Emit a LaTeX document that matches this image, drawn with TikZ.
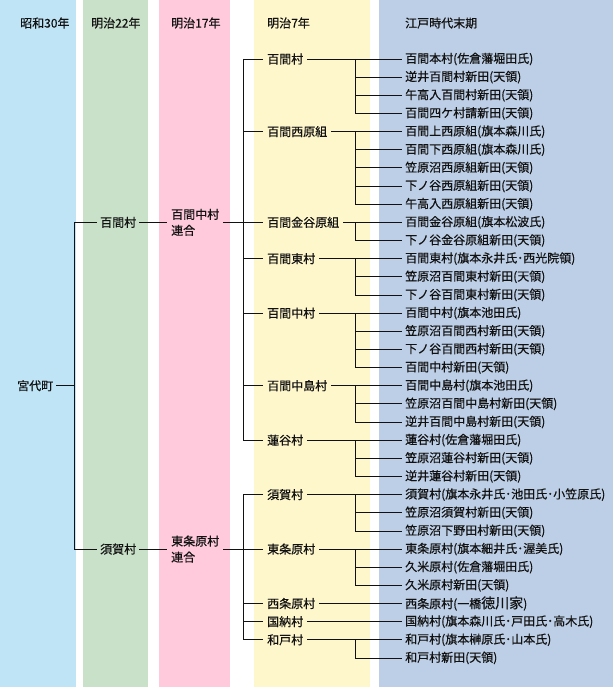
\documentclass[tikz,border=0pt]{standalone}
\usepackage{fontspec}
\setmainfont{Noto Sans CJK JP}[FakeBold=0.4]
\usetikzlibrary{calc}
\definecolor{ink}{HTML}{111111}
\definecolor{showafill}{HTML}{BEE4F5}
\definecolor{mtwtwofill}{HTML}{C9E1C9}
\definecolor{msevfill}{HTML}{FFCADB}
\definecolor{mtsevfill}{HTML}{FFF7CC}
\definecolor{edofill}{HTML}{BDCFE6}
\newcommand{\twelve}{\fontsize{12}{16}\selectfont}
\newcommand{\biggerjp}{\fontsize{14}{14}\selectfont}
\tikzset{
 every node/.append style={font=\twelve,text=ink,align=left},
 head/.style={anchor=west,inner sep=0pt},
 place/.style={anchor=west,inner xsep=3pt,inner ysep=1pt},
 newplace/.style={place,inner xsep=4pt},
 oldplace/.style={place},
 route/.style={draw=ink,line width=.8pt},
}
\begin{document}
\begin{tikzpicture}[x=1pt,y=-1pt]

\useasboundingbox (0,0) rectangle (613,687);
\fill[showafill] (0,0) rectangle (76,687);
\fill[mtwtwofill] (83,0) rectangle (148,687);
\fill[msevfill] (159,0) rectangle (230,687);
\fill[mtsevfill] (254,0) rectangle (370,687);
\fill[edofill] (379,0) rectangle (613,687);
\node[head] (hshowa) at (20,23) {昭和30年};
\node[head] (hm22) at (91,23) {明治22年};
\node[head] (hm17) at (171,23) {明治17年};
\node[head] (hm7) at (267,23) {明治7年};
\node[head] (hedo) at (405,23) {江戸時代末期};
\coordinate (trunk) at (74,0);
\coordinate (spine) at (243,0);
\coordinate (sub) at (355,0);
\foreach \i/\t in {1/百間本村(佐倉藩堀田氏),2/逆井百間村新田(天領),3/午高入百間村新田(天領),4/百間四ケ村請新田(天領),
 5/百間上西原組(旗本森川氏),6/百間下西原組(旗本森川氏),7/笠原沼西原組新田(天領),8/下ノ谷西原組新田(天領),9/午高入西原組新田(天領),
 10/百間金谷原組(旗本松波氏),11/下ノ谷金谷原組新田(天領),12/百間東村(旗本永井氏･西光院領),13/笠原沼百間東村新田(天領),14/下ノ谷百間東村新田(天領),
 15/百間中村(旗本池田氏),16/笠原沼百間西村新田(天領),17/下ノ谷百間西村新田(天領),18/百間中村新田(天領),
 19/百間中島村(旗本池田氏),20/笠原沼百間中島村新田(天領),21/逆井百間中島村新田(天領),
 22/蓮谷村(佐倉藩堀田氏),23/笠原沼蓮谷村新田(天領),24/逆井蓮谷村新田(天領),
 25/須賀村(旗本永井氏･池田氏･小笠原氏),26/笠原沼須賀村新田(天領),27/笠原沼下野田村新田(天領),
 28/東条原村(旗本細井氏･渥美氏),29/久米原村(佐倉藩堀田氏),30/久米原村新田(天領),
 31/西条原村(一橋{\biggerjp 徳川家}),32/国納村(旗本森川氏･戸田氏･高木氏),33/和戸村(旗本榊原氏･山本氏),34/和戸村新田(天領)}
 \node[oldplace] (e\i) at (402,{40.85+18.15*\i}) {\t};
\foreach \n/\r/\t in {1/1/百間村,2/5/百間西原組,3/10/百間金谷原組,4/12/百間東村,5/15/百間中村,6/19/百間中島村,
 7/22/蓮谷村,8/25/須賀村,9/28/東条原村,10/31/西条原村,11/32/国納村,12/33/和戸村}
 \node[newplace] (m\n) at (263,{40.85+18.15*\r}) {\t};
\node[newplace] (r1) at (167,{40.85+18.15*10}) {百間中村\\連合};
\node[newplace] (r2) at (167,{40.85+18.15*28}) {東条原村\\連合};
\node[place] (v1) at (97,{40.85+18.15*10}) {百間村};
\node[place] (v2) at (97,{40.85+18.15*28}) {須賀村};
\node[place] (miyashiro) at (14,{40.85+18.15*19}) {宮代町};
\draw[route] (miyashiro.east) -- (trunk |- miyashiro.east);
\draw[route] (trunk |- v1.west) -- (trunk |- v2.west);
\draw[route] (trunk |- v1.west) -- (v1.west); \draw[route] (trunk |- v2.west) -- (v2.west);
\draw[route] (v1.east) -- (r1.west); \draw[route] (v2.east) -- (r2.west);
\draw[route] (r1.east) -- (spine |- r1.east); \draw[route] (r2.east) -- (spine |- r2.east);
\draw[route] (spine |- m1.west) -- (spine |- m7.west);
\draw[route] (spine |- m8.west) -- (spine |- m12.west);
\foreach \n in {1,...,12} \draw[route] (spine |- m\n.west) -- (m\n.west);
\foreach \n/\f in {1/1,2/5,3/10,4/12,5/15,6/19,7/22,8/25,9/28,10/31,11/32,12/33}
 \draw[route] (m\n.east) -- (e\f.west);
\foreach \f/\l in {1/4,5/9,10/11,12/14,15/18,19/21,22/24,25/27,28/30,33/34}{
 \draw[route] (sub |- e\f.west) -- (sub |- e\l.west);
 \foreach \k in {\f,...,\l} \draw[route] (sub |- e\k.west) -- (e\k.west);
}
\end{tikzpicture}
\end{document}
